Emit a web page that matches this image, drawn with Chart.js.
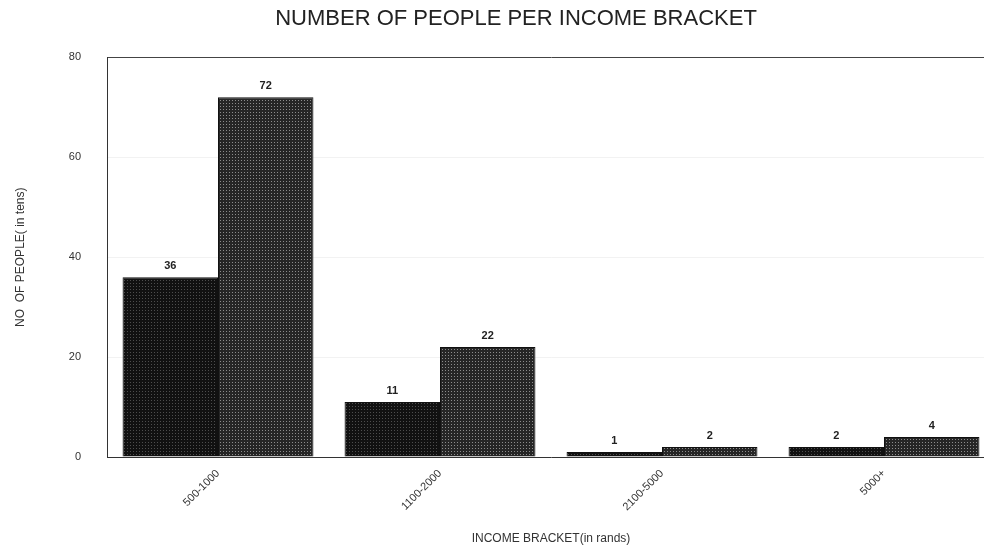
<!DOCTYPE html>
<html>
<head>
<meta charset="utf-8">
<script src="https://cdn.jsdelivr.net/npm/chart.js@4"></script>
<style>
  html, body { margin: 0; padding: 0; background: #fff; overflow: hidden; }
  #wrap { position: relative; width: 1030px; height: 554px; }
</style>
</head>
<body>
<div id="wrap"><canvas id="incomeChart"></canvas></div>
<script>
// income brackets and counts (in tens)
const brackets = ['500-1000', '1100-2000', '2100-5000', '5000+'];
const seriesA = [36, 11, 1, 2];
const seriesB = [72, 22, 2, 4];
const yTicks = [0, 20, 40, 60, 80];

function makePattern(base, dot) {
    const c = document.createElement('canvas');
    c.width = 3;
    c.height = 3;
    const g = c.getContext('2d');
    g.fillStyle = base;
    g.fillRect(0, 0, 3, 3);
    g.fillStyle = dot;
    g.fillRect(1, 1, 1, 1);
    return g.createPattern(c, 'repeat');
}

const valueLabels = {
    id: 'valueLabels',
    afterDatasetsDraw(chart) {
        const ctx = chart.ctx;
        ctx.save();
        ctx.font = 'bold 11px "Liberation Sans", Arial, sans-serif';
        ctx.fillStyle = '#222';
        ctx.textAlign = 'center';
        ctx.textBaseline = 'bottom';
        chart.data.datasets.forEach((ds, i) => {
            chart.getDatasetMeta(i).data.forEach((bar, j) => {
                ctx.fillText(ds.data[j], bar.x, bar.y - 6);
            });
        });
        ctx.restore();
    }
};

new Chart(document.getElementById('incomeChart'), {
    type: 'bar',
    data: {
        labels: brackets,
        datasets: [{
            label: 'A',
            data: seriesA,
            backgroundColor: makePattern('#111', '#4d4d4d'),
            borderColor: '#111',
            borderWidth: 1
        }, {
            label: 'B',
            data: seriesB,
            backgroundColor: makePattern('#262626', '#8c8c8c'),
            borderColor: '#111',
            borderWidth: 1
        }]
    },
    options: {
        responsive: true,
        maintainAspectRatio: false,
        animation: false,
        layout: { padding: { left: 37, right: 35, top: 0, bottom: 0 } },
        datasets: { bar: { categoryPercentage: 0.86, barPercentage: 1 } },
        plugins: {
            legend: { display: false },
            tooltip: { enabled: false },
            title: {
                display: true,
                text: 'NUMBER OF PEOPLE PER INCOME BRACKET',
                color: '#222',
                font: { family: '"Liberation Sans", Arial, sans-serif', size: 22, weight: 'normal' },
                padding: { top: 6, bottom: 25 }
            }
        },
        scales: {
            x: {
                grid: { display: false, drawTicks: false },
                border: { color: '#333', width: 1 },
                ticks: {
                    color: '#333',
                    font: { family: '"Liberation Sans", Arial, sans-serif', size: 11 },
                    minRotation: 45,
                    maxRotation: 45,
                    padding: 10
                },
                title: {
                    display: true,
                    text: 'INCOME BRACKET(in rands)',
                    color: '#333',
                    font: { family: '"Liberation Sans", Arial, sans-serif', size: 12 },
                    padding: { top: 0, bottom: 8 }
                },
                afterFit(scale) { scale.height = 97; }
            },
            y: {
                min: 0,
                max: 80,
                afterBuildTicks(scale) { scale.ticks = yTicks.map(v => ({ value: v })); },
                grid: {
                    drawTicks: false,
                    color: ctx => ctx.tick && ctx.tick.value === 80 ? '#444' : 'rgba(0,0,0,0.05)'
                },
                border: { color: '#333', width: 1 },
                ticks: {
                    color: '#333',
                    font: { family: '"Liberation Sans", Arial, sans-serif', size: 11 },
                    padding: 26
                },
                title: {
                    display: true,
                    text: 'NO  OF PEOPLE( in tens)',
                    color: '#333',
                    font: { family: '"Liberation Sans", Arial, sans-serif', size: 12 },
                    padding: { top: -24, bottom: 0 }
                },
                afterFit(scale) { scale.width = 70; }
            }
        }
    },
    plugins: [valueLabels]
});
</script>
</body>
</html>
